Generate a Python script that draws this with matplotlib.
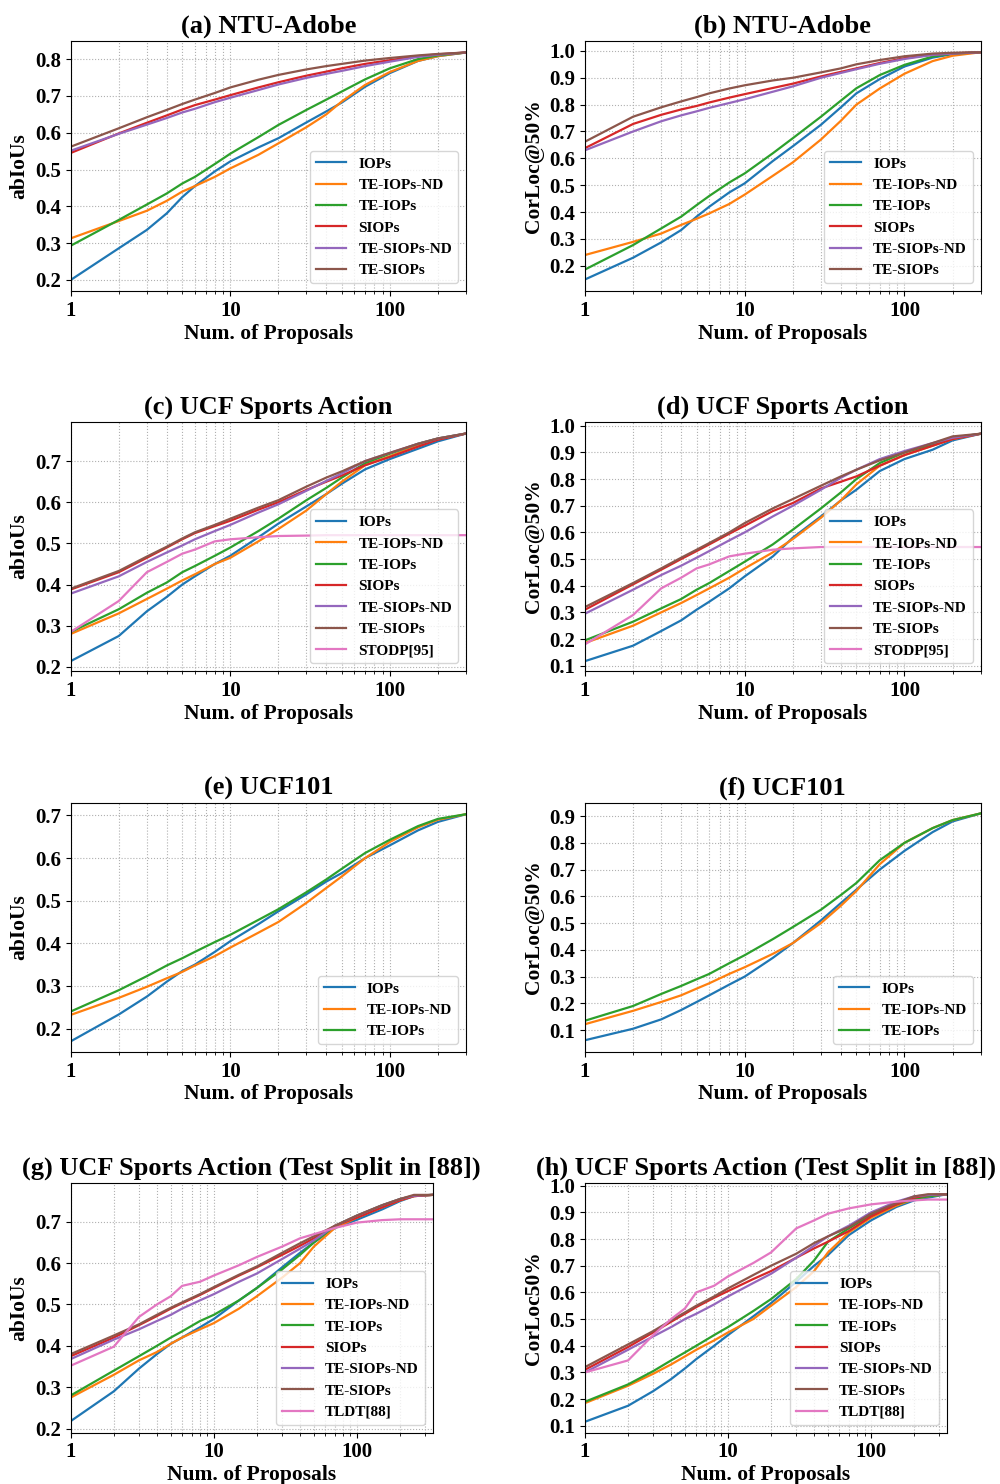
import numpy as np
import matplotlib
matplotlib.use('Agg')
import matplotlib.pyplot as plt
from matplotlib.ticker import ScalarFormatter, NullFormatter, FormatStrFormatter, MultipleLocator

plt.rcParams['font.family'] = 'serif'
plt.rcParams['font.serif'] = ['Liberation Serif', 'DejaVu Serif']
plt.rcParams['font.weight'] = 'bold'
plt.rcParams['axes.titleweight'] = 'bold'
plt.rcParams['axes.labelweight'] = 'bold'

# x grids (number of proposals)
X_STD = [1, 2, 3, 4, 5, 6, 8, 10, 15, 20, 30, 40, 50, 70, 100, 150, 200, 300]
X_SPLIT = [1, 2, 3, 4, 5, 6, 8, 10, 15, 20, 30, 40, 50, 70, 100, 150, 200, 250, 338]

NAMES6 = ['IOPs', 'TE-IOPs-ND', 'TE-IOPs', 'SIOPs', 'TE-SIOPs-ND', 'TE-SIOPs']
NAMES3 = ['IOPs', 'TE-IOPs-ND', 'TE-IOPs']

# (a) NTU-Adobe, abIoUs
a_iops = [0.200, 0.286, 0.336, 0.381, 0.425, 0.455, 0.495, 0.522, 0.560, 0.585, 0.628, 0.658, 0.682, 0.725, 0.762, 0.795, 0.808, 0.818]
a_te_iops_nd = [0.313, 0.360, 0.388, 0.415, 0.440, 0.455, 0.480, 0.503, 0.540, 0.571, 0.615, 0.650, 0.685, 0.730, 0.765, 0.795, 0.808, 0.818]
a_te_iops = [0.293, 0.363, 0.405, 0.435, 0.462, 0.480, 0.515, 0.543, 0.588, 0.621, 0.662, 0.690, 0.712, 0.745, 0.775, 0.800, 0.810, 0.818]
a_siops = [0.545, 0.598, 0.627, 0.647, 0.663, 0.675, 0.690, 0.702, 0.723, 0.737, 0.755, 0.766, 0.775, 0.787, 0.797, 0.808, 0.813, 0.818]
a_te_siops_nd = [0.551, 0.597, 0.622, 0.640, 0.655, 0.665, 0.683, 0.695, 0.716, 0.731, 0.749, 0.760, 0.768, 0.781, 0.793, 0.806, 0.812, 0.818]
a_te_siops = [0.562, 0.612, 0.642, 0.662, 0.678, 0.690, 0.708, 0.723, 0.744, 0.757, 0.772, 0.781, 0.787, 0.796, 0.803, 0.810, 0.814, 0.818]

# (b) NTU-Adobe, CorLoc@50%
b_iops = [0.149, 0.230, 0.287, 0.333, 0.383, 0.420, 0.473, 0.507, 0.590, 0.645, 0.725, 0.790, 0.842, 0.895, 0.942, 0.975, 0.988, 0.995]
b_te_iops_nd = [0.240, 0.289, 0.320, 0.352, 0.375, 0.395, 0.430, 0.465, 0.535, 0.585, 0.670, 0.740, 0.800, 0.860, 0.915, 0.962, 0.982, 0.995]
b_te_iops = [0.186, 0.277, 0.339, 0.383, 0.426, 0.460, 0.510, 0.544, 0.619, 0.675, 0.755, 0.815, 0.861, 0.910, 0.948, 0.979, 0.990, 0.995]
b_siops = [0.638, 0.728, 0.762, 0.782, 0.795, 0.808, 0.826, 0.839, 0.862, 0.878, 0.905, 0.922, 0.935, 0.955, 0.973, 0.986, 0.991, 0.995]
b_te_siops_nd = [0.630, 0.700, 0.738, 0.760, 0.775, 0.788, 0.806, 0.820, 0.848, 0.868, 0.900, 0.918, 0.932, 0.952, 0.970, 0.985, 0.990, 0.995]
b_te_siops = [0.662, 0.755, 0.790, 0.812, 0.828, 0.842, 0.860, 0.872, 0.890, 0.900, 0.920, 0.935, 0.950, 0.966, 0.980, 0.990, 0.993, 0.995]

# (c) UCF Sports Action, abIoUs
c_iops = [0.214, 0.275, 0.335, 0.370, 0.400, 0.420, 0.450, 0.470, 0.515, 0.548, 0.590, 0.620, 0.645, 0.680, 0.705, 0.730, 0.748, 0.767]
c_te_iops_nd = [0.280, 0.330, 0.365, 0.390, 0.410, 0.425, 0.450, 0.465, 0.505, 0.535, 0.580, 0.620, 0.650, 0.690, 0.712, 0.738, 0.753, 0.767]
c_te_iops = [0.285, 0.340, 0.380, 0.405, 0.430, 0.445, 0.470, 0.490, 0.530, 0.560, 0.605, 0.635, 0.660, 0.695, 0.718, 0.742, 0.755, 0.767]
c_siops = [0.388, 0.430, 0.465, 0.490, 0.510, 0.525, 0.542, 0.555, 0.582, 0.600, 0.630, 0.650, 0.665, 0.690, 0.710, 0.735, 0.752, 0.767]
c_te_siops_nd = [0.378, 0.420, 0.455, 0.478, 0.495, 0.510, 0.530, 0.545, 0.575, 0.595, 0.628, 0.652, 0.670, 0.700, 0.720, 0.742, 0.755, 0.767]
c_te_siops = [0.390, 0.433, 0.468, 0.492, 0.512, 0.527, 0.545, 0.560, 0.587, 0.605, 0.638, 0.660, 0.675, 0.700, 0.720, 0.742, 0.755, 0.767]
c_stodp = [0.285, 0.360, 0.430, 0.455, 0.475, 0.485, 0.505, 0.510, 0.515, 0.518, 0.519, 0.520, 0.520, 0.520, 0.520, 0.520, 0.520, 0.520]

# (d) UCF Sports Action, CorLoc@50%
d_iops = [0.117, 0.175, 0.230, 0.270, 0.310, 0.340, 0.390, 0.435, 0.510, 0.580, 0.660, 0.720, 0.760, 0.830, 0.875, 0.910, 0.945, 0.970]
d_te_iops_nd = [0.185, 0.250, 0.300, 0.335, 0.365, 0.390, 0.430, 0.465, 0.525, 0.575, 0.655, 0.720, 0.780, 0.850, 0.890, 0.925, 0.950, 0.970]
d_te_iops = [0.195, 0.265, 0.315, 0.350, 0.385, 0.410, 0.455, 0.490, 0.555, 0.610, 0.690, 0.750, 0.800, 0.860, 0.900, 0.930, 0.955, 0.970]
d_siops = [0.310, 0.405, 0.460, 0.500, 0.530, 0.555, 0.595, 0.625, 0.680, 0.710, 0.765, 0.790, 0.810, 0.850, 0.890, 0.925, 0.950, 0.970]
d_te_siops_nd = [0.295, 0.385, 0.440, 0.475, 0.505, 0.530, 0.570, 0.600, 0.660, 0.700, 0.760, 0.805, 0.835, 0.875, 0.905, 0.935, 0.955, 0.970]
d_te_siops = [0.320, 0.410, 0.465, 0.505, 0.535, 0.560, 0.600, 0.635, 0.690, 0.725, 0.775, 0.810, 0.835, 0.870, 0.900, 0.935, 0.960, 0.970]
d_stodp = [0.180, 0.290, 0.390, 0.430, 0.465, 0.480, 0.510, 0.520, 0.535, 0.540, 0.545, 0.545, 0.545, 0.545, 0.545, 0.545, 0.545, 0.545]

# (e) UCF101, abIoUs
e_iops = [0.170, 0.233, 0.275, 0.310, 0.335, 0.350, 0.380, 0.405, 0.445, 0.475, 0.515, 0.545, 0.565, 0.600, 0.630, 0.665, 0.685, 0.703]
e_te_iops_nd = [0.232, 0.272, 0.298, 0.318, 0.333, 0.348, 0.370, 0.390, 0.425, 0.450, 0.495, 0.530, 0.557, 0.600, 0.638, 0.672, 0.690, 0.703]
e_te_iops = [0.240, 0.290, 0.323, 0.348, 0.365, 0.380, 0.403, 0.420, 0.455, 0.480, 0.520, 0.550, 0.575, 0.612, 0.643, 0.675, 0.692, 0.703]

# (f) UCF101, CorLoc@50%
f_iops = [0.062, 0.105, 0.140, 0.175, 0.205, 0.230, 0.270, 0.300, 0.370, 0.425, 0.510, 0.575, 0.625, 0.700, 0.770, 0.840, 0.880, 0.910]
f_te_iops_nd = [0.122, 0.172, 0.205, 0.230, 0.255, 0.275, 0.310, 0.335, 0.385, 0.425, 0.500, 0.565, 0.620, 0.720, 0.800, 0.855, 0.885, 0.910]
f_te_iops = [0.135, 0.190, 0.235, 0.265, 0.290, 0.310, 0.350, 0.380, 0.440, 0.485, 0.550, 0.605, 0.650, 0.735, 0.800, 0.855, 0.885, 0.910]

# (g) UCF Sports Action (test split in [88]), abIoUs
g_iops = [0.218, 0.290, 0.345, 0.380, 0.405, 0.420, 0.445, 0.465, 0.510, 0.540, 0.590, 0.625, 0.650, 0.685, 0.705, 0.730, 0.750, 0.762, 0.765]
g_te_iops_nd = [0.275, 0.330, 0.365, 0.385, 0.405, 0.420, 0.440, 0.455, 0.490, 0.520, 0.565, 0.600, 0.640, 0.685, 0.710, 0.735, 0.752, 0.762, 0.765]
g_te_iops = [0.280, 0.340, 0.375, 0.400, 0.420, 0.435, 0.460, 0.475, 0.510, 0.540, 0.585, 0.620, 0.650, 0.690, 0.715, 0.740, 0.755, 0.763, 0.765]
g_siops = [0.375, 0.420, 0.450, 0.472, 0.490, 0.503, 0.523, 0.540, 0.570, 0.590, 0.620, 0.642, 0.660, 0.690, 0.710, 0.735, 0.752, 0.762, 0.765]
g_te_siops_nd = [0.368, 0.415, 0.440, 0.460, 0.475, 0.490, 0.510, 0.525, 0.555, 0.575, 0.610, 0.635, 0.655, 0.690, 0.715, 0.740, 0.755, 0.763, 0.765]
g_te_siops = [0.380, 0.425, 0.452, 0.475, 0.492, 0.505, 0.525, 0.542, 0.572, 0.592, 0.625, 0.648, 0.665, 0.690, 0.715, 0.740, 0.755, 0.765, 0.765]
g_tldt = [0.352, 0.398, 0.470, 0.500, 0.520, 0.545, 0.555, 0.570, 0.595, 0.615, 0.640, 0.660, 0.670, 0.685, 0.698, 0.704, 0.706, 0.706, 0.706]

# (h) UCF Sports Action (test split in [88]), CorLoc50%
h_iops = [0.115, 0.175, 0.230, 0.275, 0.315, 0.350, 0.400, 0.440, 0.510, 0.560, 0.640, 0.700, 0.740, 0.815, 0.870, 0.920, 0.945, 0.955, 0.968]
h_te_iops_nd = [0.185, 0.250, 0.295, 0.330, 0.360, 0.385, 0.420, 0.450, 0.500, 0.550, 0.620, 0.680, 0.750, 0.825, 0.880, 0.925, 0.950, 0.960, 0.968]
h_te_iops = [0.190, 0.255, 0.305, 0.345, 0.375, 0.400, 0.440, 0.470, 0.530, 0.575, 0.650, 0.720, 0.790, 0.840, 0.890, 0.930, 0.950, 0.960, 0.968]
h_siops = [0.310, 0.395, 0.450, 0.490, 0.520, 0.545, 0.580, 0.605, 0.650, 0.680, 0.730, 0.765, 0.790, 0.830, 0.885, 0.930, 0.955, 0.965, 0.968]
h_te_siops_nd = [0.300, 0.385, 0.435, 0.470, 0.500, 0.520, 0.555, 0.585, 0.635, 0.670, 0.730, 0.775, 0.810, 0.850, 0.900, 0.940, 0.960, 0.965, 0.968]
h_te_siops = [0.320, 0.405, 0.455, 0.495, 0.525, 0.550, 0.585, 0.615, 0.665, 0.700, 0.745, 0.785, 0.810, 0.845, 0.895, 0.935, 0.960, 0.968, 0.968]
h_tldt = [0.300, 0.345, 0.440, 0.500, 0.540, 0.600, 0.625, 0.660, 0.710, 0.750, 0.840, 0.870, 0.895, 0.915, 0.930, 0.940, 0.945, 0.948, 0.948]

W, H = 1000, 1484
fig = plt.figure(figsize=(W / 100, H / 100), dpi=100)


def rect(l, t, r, b):
    return [l / W, 1 - b / H, (r - l) / W, (b - t) / H]


def panel(box, x, series, names, title, ylabel, xmax, ylim):
    ax = fig.add_axes(rect(*box))
    for ys, name in zip(series, names):
        ax.plot(x, ys, lw=1.6, label=name)
    ax.set_xscale('log')
    ax.set_xlim(1, xmax)
    ax.set_ylim(*ylim)
    ax.xaxis.set_major_formatter(ScalarFormatter())
    ax.xaxis.set_minor_formatter(NullFormatter())
    ax.yaxis.set_major_locator(MultipleLocator(0.1))
    ax.yaxis.set_major_formatter(FormatStrFormatter('%.1f'))
    ax.tick_params(labelsize=15)
    ax.grid(True, which='both', linestyle=':', color='#b0b0b0', lw=0.8)
    ax.set_title(title, fontsize=19)
    ax.set_xlabel('Num. of Proposals', fontsize=15.5, labelpad=2)
    ax.set_ylabel(ylabel, fontsize=15.5)
    ax.legend(loc='lower right', fontsize=11)
    return ax


panel((70.7, 40.7, 466, 291), X_STD,
      [a_iops, a_te_iops_nd, a_te_iops, a_siops, a_te_siops_nd, a_te_siops],
      NAMES6, '(a) NTU-Adobe', 'abIoUs', 300, (0.17, 0.85))
panel((585, 40.7, 980.7, 291), X_STD,
      [b_iops, b_te_iops_nd, b_te_iops, b_siops, b_te_siops_nd, b_te_siops],
      NAMES6, '(b) NTU-Adobe', 'CorLoc@50%', 300, (0.106, 1.038))
panel((70.7, 422, 466, 671), X_STD,
      [c_iops, c_te_iops_nd, c_te_iops, c_siops, c_te_siops_nd, c_te_siops, c_stodp],
      NAMES6 + ['STODP[95]'], '(c) UCF Sports Action', 'abIoUs', 300, (0.19, 0.795))
panel((585, 422, 980.7, 671), X_STD,
      [d_iops, d_te_iops_nd, d_te_iops, d_siops, d_te_siops_nd, d_te_siops, d_stodp],
      NAMES6 + ['STODP[95]'], '(d) UCF Sports Action', 'CorLoc@50%', 300, (0.08, 1.014))
panel((70.7, 802.7, 466, 1052), X_STD,
      [e_iops, e_te_iops_nd, e_te_iops],
      NAMES3, '(e) UCF101', 'abIoUs', 300, (0.145, 0.73))
panel((585, 802.7, 980.7, 1052), X_STD,
      [f_iops, f_te_iops_nd, f_te_iops],
      NAMES3, '(f) UCF101', 'CorLoc@50%', 300, (0.018, 0.95))
panel((70.7, 1183.3, 432.7, 1432.7), X_SPLIT,
      [g_iops, g_te_iops_nd, g_te_iops, g_siops, g_te_siops_nd, g_te_siops, g_tldt],
      NAMES6 + ['TLDT[88]'], '(g) UCF Sports Action (Test Split in [88])', 'abIoUs', 338, (0.19, 0.793))
panel((585, 1183.3, 946.7, 1432.7), X_SPLIT,
      [h_iops, h_te_iops_nd, h_te_iops, h_siops, h_te_siops_nd, h_te_siops, h_tldt],
      NAMES6 + ['TLDT[88]'], '(h) UCF Sports Action (Test Split in [88])', 'CorLoc50%', 338, (0.074, 1.009))

fig.savefig('out.png', dpi=100)
